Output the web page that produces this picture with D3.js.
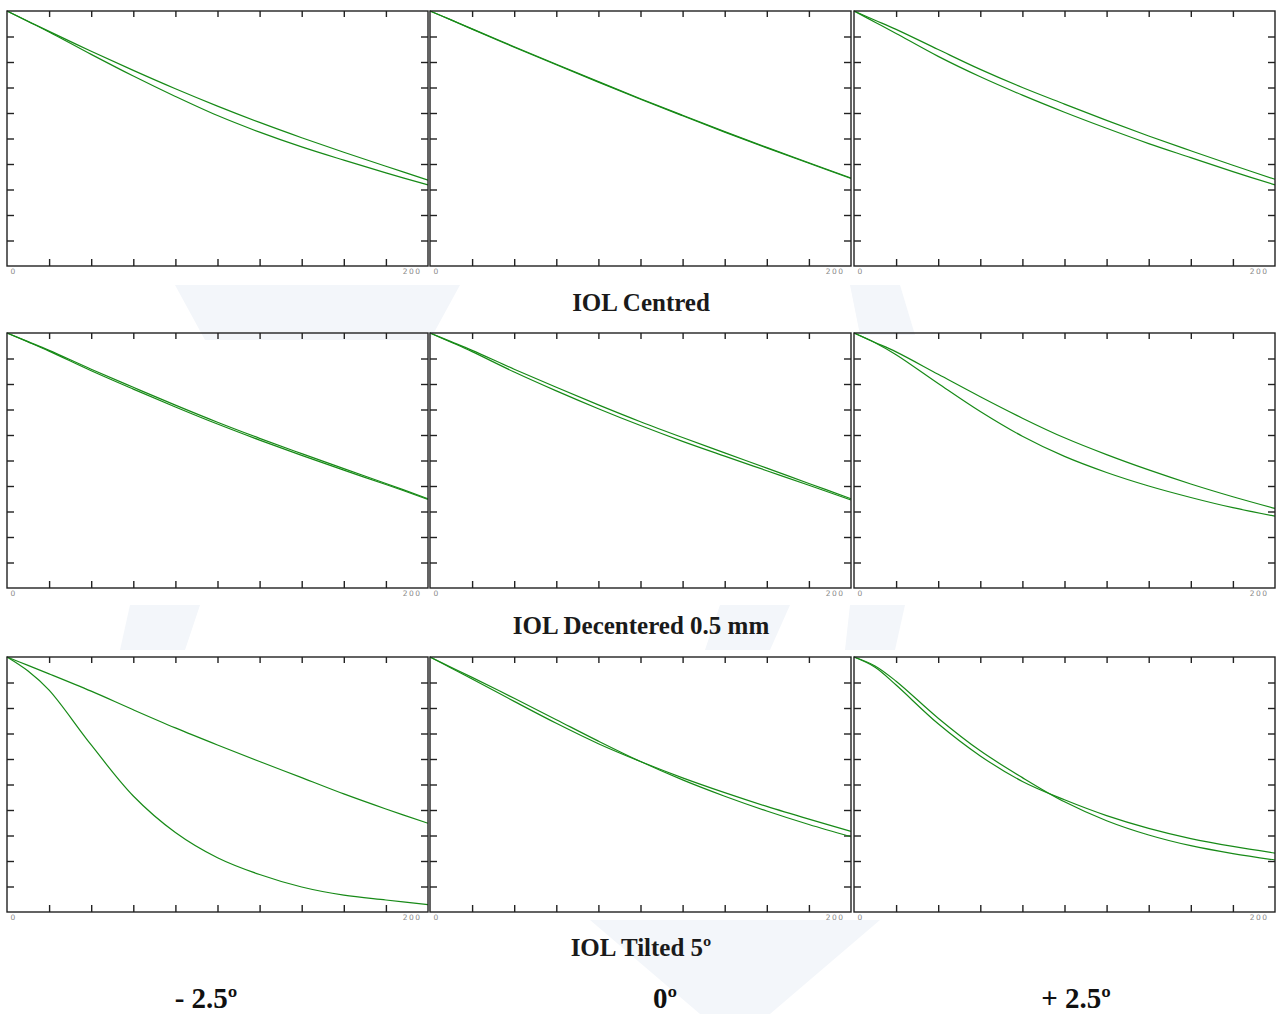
<!DOCTYPE html>
<html>
<head>
<meta charset="utf-8">
<script src="https://cdn.jsdelivr.net/npm/d3@7"></script>
<style>
  body { margin: 0; background: #fff; }
  svg { display: block; }
</style>
</head>
<body>
<svg id="chart" width="1276" height="1014"></svg>
<script>
// spatial frequency samples (cycles/mm)
const freq = [0, 10, 20, 40, 60, 80, 100, 120, 140, 160, 180, 200];
const xTickValues = [20, 40, 60, 80, 100, 120, 140, 160, 180];
const yTickValues = [0.1, 0.2, 0.3, 0.4, 0.5, 0.6, 0.7, 0.8, 0.9];
const xLabels = [0, 200];

const rowTitles = ['IOL Centred', 'IOL Decentered 0.5 mm', 'IOL Tilted 5º'];
const colLabels = ['- 2.5º', '0º', '+ 2.5º'];

// MTF curves, two per panel
const centredNeg = [
  [1, 0.96, 0.92, 0.842, 0.767, 0.695, 0.627, 0.563, 0.503, 0.446, 0.391, 0.337],
  [1, 0.959, 0.918, 0.83, 0.745, 0.665, 0.59, 0.525, 0.467, 0.415, 0.365, 0.318]
];
const centredZero = [
  [1, 0.965, 0.93, 0.86, 0.791, 0.723, 0.656, 0.591, 0.527, 0.465, 0.405, 0.345],
  [1, 0.965, 0.929, 0.858, 0.789, 0.721, 0.654, 0.589, 0.525, 0.463, 0.403, 0.343]
];
const centredPos = [
  [1, 0.964, 0.928, 0.849, 0.771, 0.7, 0.635, 0.571, 0.51, 0.452, 0.395, 0.34],
  [1, 0.956, 0.912, 0.822, 0.742, 0.67, 0.603, 0.54, 0.48, 0.425, 0.37, 0.318]
];
const decentNeg = [
  [1, 0.966, 0.932, 0.858, 0.787, 0.717, 0.65, 0.587, 0.527, 0.468, 0.41, 0.35],
  [1, 0.965, 0.929, 0.852, 0.78, 0.71, 0.643, 0.58, 0.52, 0.462, 0.406, 0.347]
];
const decentZero = [
  [1, 0.966, 0.932, 0.858, 0.787, 0.718, 0.652, 0.59, 0.53, 0.47, 0.41, 0.35],
  [1, 0.964, 0.927, 0.847, 0.773, 0.703, 0.637, 0.575, 0.517, 0.46, 0.403, 0.345]
];
const decentPos = [
  [1, 0.963, 0.926, 0.838, 0.75, 0.666, 0.589, 0.523, 0.463, 0.408, 0.358, 0.312],
  [1, 0.962, 0.915, 0.802, 0.692, 0.595, 0.516, 0.453, 0.4, 0.355, 0.315, 0.282]
];
const tiltNeg = [
  [1, 0.967, 0.934, 0.866, 0.793, 0.722, 0.655, 0.59, 0.527, 0.463, 0.404, 0.348],
  [1, 0.945, 0.87, 0.655, 0.455, 0.312, 0.213, 0.147, 0.098, 0.066, 0.047, 0.029]
];
const tiltZero = [
  [1, 0.96, 0.92, 0.838, 0.754, 0.67, 0.59, 0.518, 0.454, 0.396, 0.343, 0.295],
  [1, 0.957, 0.914, 0.826, 0.74, 0.66, 0.59, 0.526, 0.468, 0.414, 0.364, 0.316]
];
const tiltPos = [
  [1, 0.965, 0.905, 0.76, 0.632, 0.527, 0.432, 0.358, 0.302, 0.26, 0.229, 0.204],
  [1, 0.96, 0.89, 0.738, 0.612, 0.512, 0.44, 0.378, 0.328, 0.288, 0.257, 0.231]
];

const panels = [
  [centredNeg, centredZero, centredPos],
  [decentNeg, decentZero, decentPos],
  [tiltNeg, tiltZero, tiltPos]
];

const svg = d3.select('#chart');
const colX = [7, 430, 854];
const rowY = [11, 333, 657];
const pw = 421, ph = 255;

// faint watermark shapes in the background
const wm = svg.append('g').attr('fill', '#f3f6fa');
[
  [[175, 285], [460, 285], [430, 340], [205, 340]],
  [[850, 285], [900, 285], [915, 335], [860, 335]],
  [[130, 605], [200, 605], [185, 650], [120, 650]],
  [[720, 605], [790, 605], [770, 650], [705, 650]],
  [[850, 605], [905, 605], [895, 650], [845, 650]],
  [[590, 920], [880, 920], [770, 1014], [700, 1014]]
].forEach(p => wm.append('polygon').attr('points', p.map(d => d.join(',')).join(' ')));

const x = d3.scaleLinear().domain([0, 200]).range([0, pw]);
const y = d3.scaleLinear().domain([0, 1]).range([ph, 0]);
const line = d3.line()
  .x((d, i) => x(freq[i]))
  .y(d => y(d))
  .curve(d3.curveCatmullRom.alpha(0.5));

panels.forEach((row, r) => {
  row.forEach((series, c) => {
    const g = svg.append('g').attr('transform', `translate(${colX[c]},${rowY[r]})`);

    // ticks pointing inwards on all four sides
    const tick = (axis, tx, ty) => {
      const a = g.append('g').attr('transform', `translate(${tx},${ty})`).call(axis);
      a.select('.domain').remove();
      a.selectAll('line').attr('stroke', '#222').attr('stroke-width', 1.4);
    };
    tick(d3.axisTop(x).tickValues(xTickValues).tickSize(-6).tickFormat(''), 0, 0);
    tick(d3.axisBottom(x).tickValues(xTickValues).tickSize(-7).tickFormat(''), 0, ph);
    tick(d3.axisLeft(y).tickValues(yTickValues).tickSize(-7).tickFormat(''), 0, 0);
    tick(d3.axisRight(y).tickValues(yTickValues).tickSize(-7).tickFormat(''), pw, 0);

    // 0 / 200 labels under the frame
    const lab = g.append('g').attr('transform', `translate(0,${ph})`)
      .call(d3.axisBottom(x).tickValues(xLabels).tickSize(0).tickPadding(3));
    lab.select('.domain').remove();
    lab.selectAll('text')
      .attr('font-family', 'DejaVu Sans, sans-serif')
      .attr('font-size', 7.5)
      .attr('letter-spacing', 1.5)
      .attr('fill', '#888')
      .attr('text-anchor', d => d === 0 ? 'start' : 'end')
      .attr('dx', d => d === 0 ? 3 : -7);

    // curves
    series.forEach(s => {
      g.append('path')
        .datum(s)
        .attr('fill', 'none')
        .attr('stroke', '#178a17')
        .attr('stroke-width', 1.2)
        .attr('d', line);
    });

    g.append('rect')
      .attr('width', pw).attr('height', ph)
      .attr('fill', 'none')
      .attr('stroke', '#222')
      .attr('stroke-width', 1.4);
  });
});

// row titles
const titleY = [311, 634, 956];
rowTitles.forEach((t, i) => {
  svg.append('text')
    .attr('x', 641).attr('y', titleY[i])
    .attr('text-anchor', 'middle')
    .attr('font-family', 'Liberation Serif, serif')
    .attr('font-weight', 'bold')
    .attr('font-size', 25)
    .attr('fill', '#1a1a1a')
    .text(t);
});

// column labels at the bottom
const colLabelX = [206, 665, 1076];
colLabels.forEach((t, i) => {
  svg.append('text')
    .attr('x', colLabelX[i]).attr('y', 1008)
    .attr('text-anchor', 'middle')
    .attr('font-family', 'Liberation Serif, serif')
    .attr('font-weight', 'bold')
    .attr('font-size', 29)
    .attr('fill', '#111')
    .text(t);
});
</script>
</body>
</html>
